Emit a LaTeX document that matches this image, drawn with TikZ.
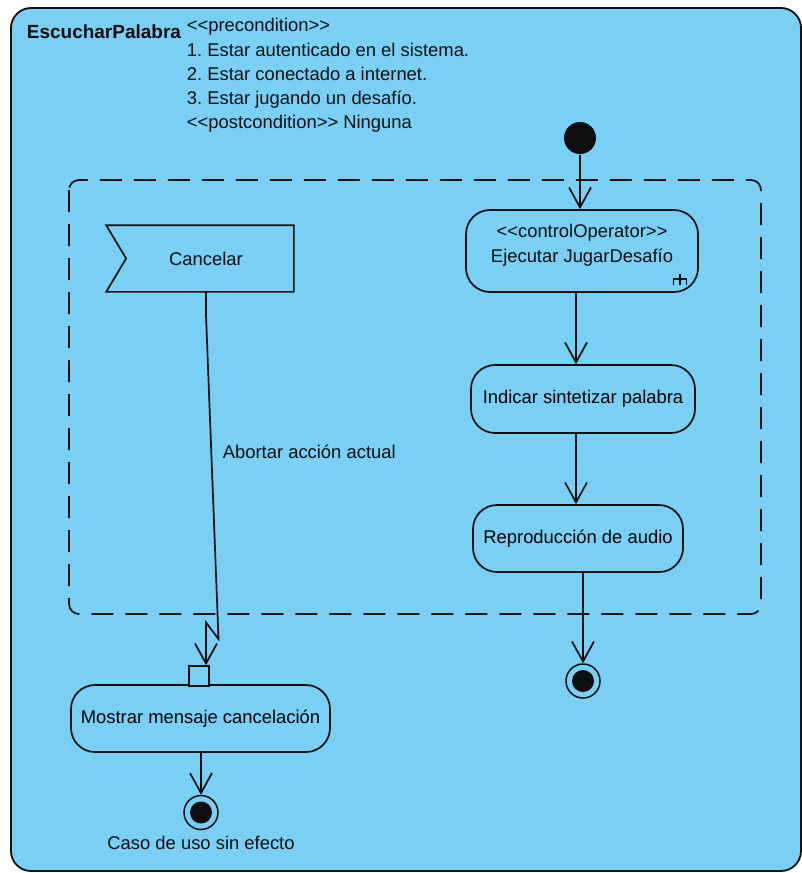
\documentclass[tikz,border=0pt]{standalone}
\usepackage{fontspec}
\setmainfont{Liberation Sans}
\usetikzlibrary{arrows.meta}
\definecolor{panel}{RGB}{122,207,245}
\definecolor{ink}{RGB}{15,15,15}
% keep the angle brackets as two separate characters
\newcommand{\lguil}{<\kern0pt<}
\newcommand{\rguil}{>\kern0pt>}
\frenchspacing
\begin{document}
\begin{tikzpicture}[x=1pt,y=-1pt,line width=1.7pt,draw=ink,
  font=\fontsize{18.4}{24}\selectfont,
  flow/.style={draw=ink,-{Straight Barb[length=20pt,width=22pt,line width=1.7pt]}},
  activity/.style={draw=ink,rounded corners=24pt,inner sep=0pt},
  caption/.style={inner sep=0pt,text=ink},
  startstate/.style={circle,fill=ink,minimum size=32pt,inner sep=0pt},
  endring/.style={circle,draw=ink,line width=1.5pt,minimum size=34pt,inner sep=0pt},
  endcore/.style={circle,fill=ink,minimum size=22pt,inner sep=0pt},
  region/.style={draw=ink,dash pattern=on 22pt off 12pt,rounded corners=10pt}]

% page and use-case frame
\useasboundingbox (0,0) rectangle (802,873);
\fill[white] (0,0) rectangle (802,873);
\draw[fill=panel,rounded corners=20pt,line width=1.8pt] (11,8) rectangle (801,871);

% heading with conditions
\node[caption,anchor=base west,font=\fontsize{19}{24}\selectfont\bfseries] (title) at (26,38) {EscucharPalabra};
\node[caption,anchor=base west] (pre)  at (186,31)  {\lguil precondition\rguil};
\node[caption,anchor=base west] (c1)   at (186,56)  {1. Estar autenticado en el sistema.};
\node[caption,anchor=base west] (c2)   at (186,80)  {2. Estar conectado a internet.};
\node[caption,anchor=base west] (c3)   at (186,104) {3. Estar jugando un desafío.};
\node[caption,anchor=base west] (post) at (186,128) {\lguil postcondition\rguil{} Ninguna};

% interruptible region
\draw[region] (69,180) rectangle (761,614);

% accept-event action
\node[inner sep=0pt,minimum width=186pt,minimum height=65pt] (cancel) at (200,258.5) {};
\draw (cancel.north west) -- (cancel.north east) -- (cancel.south east) -- (cancel.south west)
      -- ([xshift=20pt]cancel.west) -- cycle;
\node[caption] (cancelText) at (206,259) {Cancelar};

% main flow
\node[startstate] (init) at (580,138) {};
\node[activity,minimum width=232pt,minimum height=82pt] (ctrl) at (582,251) {};
\node[caption,align=center] (ctrlText) at ([yshift=5.5pt]ctrl.center) {\lguil controlOperator\rguil\\[1pt]Ejecutar JugarDesafío};
\draw[line width=1.3pt] (680,273.5) -- (680,285) (673.5,279) -- (686.5,279)
      (673.5,278.4) -- (673.5,285) (686.5,278.4) -- (686.5,285);
\node[activity,minimum width=224pt,minimum height=68pt] (synth) at (583,399) {Indicar sintetizar palabra};
\node[activity,minimum width=210pt,minimum height=67pt] (audio) at (578,538.5) {Reproducción de audio};
\node[endring] (done) at (583,681) {};
\node[endcore] at (done) {};

\draw[flow] (init) -- (init |- ctrl.north);
\draw[flow] ([xshift=-6pt]ctrl.south) -- ([xshift=-6pt]ctrl.south |- synth.north);
\draw[flow] ([xshift=-7pt]synth.south) -- ([xshift=-7pt]synth.south |- audio.north);
\draw[flow] (audio.south -| done) -- (done.north);

% cancellation flow
\node[activity,minimum width=259pt,minimum height=67pt] (notify) at (200.5,718.5) {Mostrar mensaje cancelación};
\node[draw=ink,fill=panel,inner sep=0pt,minimum size=20pt,line width=1.5pt] (pin) at (199,676) {};
\node[endring] (void) at (201,812.5) {};
\node[endcore] at (void) {};
\node[caption,anchor=base] (voidText) at (201,849) {Caso de uso sin efecto};

\coordinate (drop) at (206,315);
\coordinate (zigA) at (218.5,639);
\coordinate (zigB) at (206,622.5);
\draw[flow] ([xshift=6pt]cancel.south) -- (drop) -- (zigA) -- (zigB) -- (pin.north -| zigB);
\node[caption,anchor=base west] (abort) at (222,458) {Abortar acción actual};

\draw[flow] (notify.south -| void) -- (void.north);
\end{tikzpicture}
\end{document}
